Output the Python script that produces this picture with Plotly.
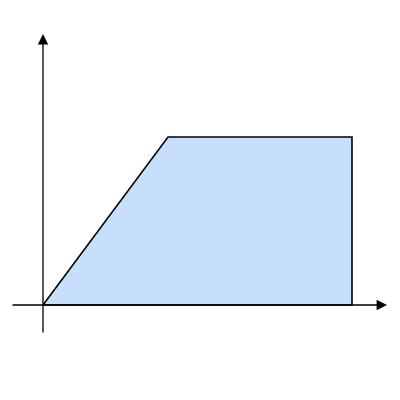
import plotly.graph_objects as go

# trapezoid outline (ramp up, plateau, drop)
shape_x = [0, 5, 12.36, 12.36, 0]
shape_y = [0, 6.72, 6.72, 0, 0]

# axis extents
x_axis = [-1.28, 13.76]
y_axis = [-1.16, 10.84]

fig = go.Figure()

fig.add_trace(go.Scatter(
    x=shape_x, y=shape_y, mode='lines', fill='toself',
    fillcolor='#c6dffb', line=dict(color='black', width=1.6),
    hoverinfo='skip', showlegend=False
))

# axes as arrows
fig.add_annotation(x=x_axis[1], y=0, ax=x_axis[0], ay=0,
                   xref='x', yref='y', axref='x', ayref='y',
                   showarrow=True, arrowhead=2, arrowsize=1.6, arrowwidth=1.3,
                   arrowcolor='black', standoff=0, text='')
fig.add_annotation(x=0, y=y_axis[1], ax=0, ay=y_axis[0],
                   xref='x', yref='y', axref='x', ayref='y',
                   showarrow=True, arrowhead=2, arrowsize=1.6, arrowwidth=1.3,
                   arrowcolor='black', standoff=0, text='')

fig.update_xaxes(range=[-1.4, 14.6], visible=False)
fig.update_yaxes(range=[-4.12, 11.88], visible=False)
fig.update_layout(
    width=400, height=400,
    margin=dict(l=0, r=0, t=0, b=0),
    plot_bgcolor='white', paper_bgcolor='white'
)

fig.write_html("out.html")
